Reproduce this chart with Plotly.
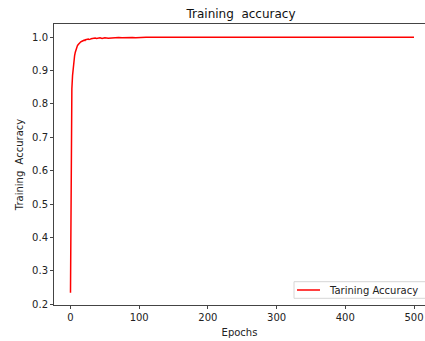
import plotly.graph_objects as go

epochs = list(range(0, 31)) + [32, 34, 36, 38, 40, 43, 46, 50, 55, 60, 65, 70, 75, 80, 85,
                                90, 95, 100, 105, 110, 120, 130, 140, 160, 180, 200, 250,
                                300, 350, 400, 450, 500]
accuracy = [0.235, 0.74, 0.845, 0.885, 0.915, 0.932, 0.945, 0.955, 0.963, 0.969,
            0.974, 0.977, 0.980, 0.982, 0.985, 0.986, 0.987, 0.989, 0.988, 0.990,
            0.991, 0.990, 0.992, 0.993, 0.992, 0.993, 0.994, 0.993, 0.995, 0.994,
            0.995,
            0.996, 0.995, 0.997, 0.996, 0.997, 0.998, 0.996, 0.998, 0.997, 0.998,
            0.997, 0.999, 0.998, 0.999, 0.998, 0.999, 0.998, 0.999, 0.999, 1.0,
            1.0, 0.999, 1.0, 1.0, 1.0, 1.0,
            1.0, 1.0, 1.0, 1.0, 1.0, 1.0]

x_ticks = [0, 100, 200, 300, 400, 500]
y_ticks = [0.2, 0.3, 0.4, 0.5, 0.6, 0.7, 0.8, 0.9, 1.0]
series_name = "Tarining Accuracy"

FONT = "DejaVu Sans"
AX = "#444444"
RED = "#ff0000"

# plot area in pixels: x 54..425, y 24..305
L, R, T, B = 54, 425, 24, 305
def px(xpix):
    return (xpix - L) / (R - L)
def py(ypix):
    return (B - ypix) / (B - T)

fig = go.Figure()
fig.add_trace(go.Scatter(x=epochs, y=accuracy, mode="lines",
                         line=dict(color=RED, width=1.5),
                         name=series_name, showlegend=False))

# matplotlib-style legend box (lower right)
x0, x1, y0, y1 = px(294), px(428), py(298.3), py(281.7)
fig.add_shape(type="rect", xref="paper", yref="paper", x0=x0, x1=x1, y0=y0, y1=y1,
              line=dict(color="#d6d6d6", width=1), fillcolor="rgba(255,255,255,0.85)",
              layer="above")
fig.add_shape(type="line", xref="paper", yref="paper", x0=px(297), x1=px(320),
              y0=py(290), y1=py(290), line=dict(color=RED, width=1.5), layer="above")
fig.add_annotation(text=series_name, xref="paper", yref="paper", x=px(327), y=py(290),
                   xanchor="left", yanchor="middle", showarrow=False,
                   font=dict(family=FONT, size=10, color="#222222"))

fig.update_layout(
    width=425, height=341,
    margin=dict(l=L, r=425 - R, t=T, b=341 - B),
    paper_bgcolor="white", plot_bgcolor="white",
    font=dict(family=FONT, size=10, color="#222222"),
    title=dict(text="Training  accuracy", x=241/425, xref="container", xanchor="center",
               y=1 - 14/341, yref="container", yanchor="middle",
               font=dict(family=FONT, size=12, color="#111111")),
    showlegend=False,
    xaxis=dict(range=[-24, 516], tickvals=x_ticks, ticktext=[str(v) for v in x_ticks],
               showgrid=False, zeroline=False, showline=True, linecolor=AX, linewidth=1,
               mirror=True, ticks="outside", ticklen=3, tickcolor=AX,
               title=dict(text="Epochs", standoff=6, font=dict(size=10))),
    yaxis=dict(range=[0.198, 1.0393], tickvals=y_ticks, ticktext=[f"{v:.1f}" for v in y_ticks],
               showgrid=False, zeroline=False, showline=True, linecolor=AX, linewidth=1,
               mirror=False, ticks="outside", ticklen=3, tickcolor=AX,
               title=dict(text="Training  Accuracy", standoff=6, font=dict(size=10))),
)

fig.write_html("out.html")
